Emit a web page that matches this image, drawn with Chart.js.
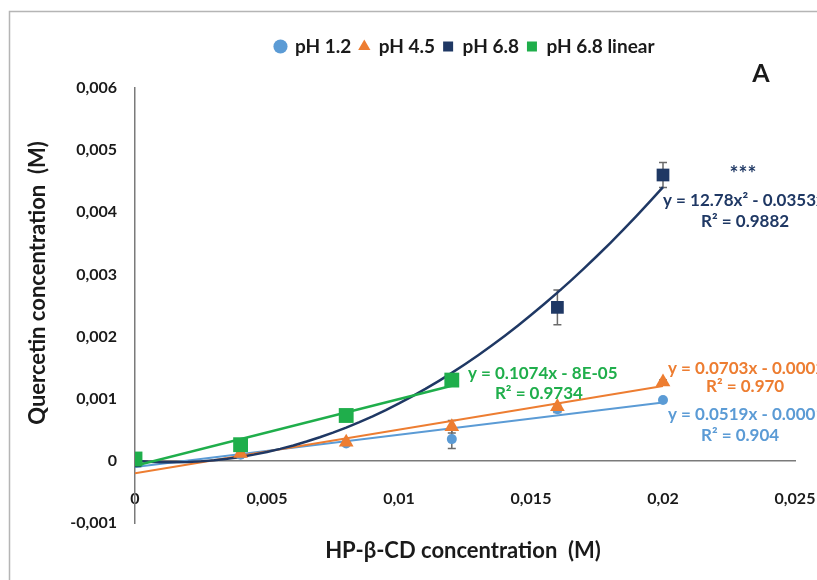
<!DOCTYPE html>
<html>
<head>
<meta charset="utf-8">
<script src="https://cdn.jsdelivr.net/npm/chart.js@4.4.0/dist/chart.umd.min.js"></script>
<style>
  html, body { margin: 0; padding: 0; background: #fff; }
  #wrap { width: 817px; height: 580px; }
</style>
</head>
<body>
<div id="wrap"><canvas id="solChart" width="817" height="580"></canvas></div>
<script>
// HP-b-CD concentration (M)
var conc = [0, 0.004, 0.008, 0.012, 0.016, 0.02];
// quercetin concentration (M) per medium
var ph12 = [0, 0.0001, 0.00028, 0.00035, 0.00083, 0.00098];
var ph12Err = [0, 0, 0, 0.00015, 0.00005, 0];
var ph45 = [0, 0.00012, 0.0003, 0.00055, 0.00087, 0.00127];
var ph45Err = [0, 0, 0, 0.0001, 0.00005, 0.00003];
var ph68 = [0, null, null, 0.0013, 0.00247, 0.0046];
var ph68Err = [0, 0, 0, 0, 0.00028, 0.0002];
var ph68Lin = [0.00003, 0.00026, 0.00073, 0.0013];
// trendline coefficients as printed on the chart
var fit12 = [0.0519, -0.0001];
var fit45 = [0.0703, -0.0002];
var fit68 = [12.78, -0.0353, 0];
var fit68Lin = [0.1074, -0.00008];
var xTickLabels = ['0', '0,005', '0,01', '0,015', '0,02', '0,025'];
var yTickLabels = ['-0,001', '0', '0,001', '0,002', '0,003', '0,004', '0,005', '0,006'];

var BLUE = '#5b9bd5', ORANGE = '#ed7d31', NAVY = '#1f3864', GREEN = '#1fae4b';
var FONT = 'Lato, "Open Sans", sans-serif';

function pts(xs, ys) {
    var out = [];
    for (var i = 0; i < ys.length; i++) {
        if (ys[i] !== null) out.push({ x: xs[i], y: ys[i] });
    }
    return out;
}
function linFit(c, x0, x1) {
    return [{ x: x0, y: c[0] * x0 + c[1] }, { x: x1, y: c[0] * x1 + c[1] }];
}
function polyFit(c, x0, x1, n) {
    var out = [];
    for (var i = 0; i <= n; i++) {
        var x = x0 + (x1 - x0) * i / n;
        out.push({ x: x, y: c[0] * x * x + c[1] * x + c[2] });
    }
    return out;
}

var errorSets = [
    { ys: ph12, err: ph12Err },
    { ys: ph45, err: ph45Err },
    { ys: ph68, err: ph68Err }
];

var errorBars = {
    id: 'errorBars',
    beforeDatasetsDraw: function (chart) {
        var ctx = chart.ctx, xs = chart.scales.x, ys = chart.scales.y;
        ctx.save();
        ctx.strokeStyle = '#6b6b6b';
        ctx.lineWidth = 1.5;
        errorSets.forEach(function (s) {
            for (var i = 0; i < conc.length; i++) {
                if (!s.err[i] || s.ys[i] === null) continue;
                var px = xs.getPixelForValue(conc[i]);
                var top = ys.getPixelForValue(s.ys[i] + s.err[i]);
                var bot = ys.getPixelForValue(s.ys[i] - s.err[i]);
                ctx.beginPath();
                ctx.moveTo(px, top); ctx.lineTo(px, bot);
                ctx.moveTo(px - 4, top); ctx.lineTo(px + 4, top);
                ctx.moveTo(px - 4, bot); ctx.lineTo(px + 4, bot);
                ctx.stroke();
            }
        });
        ctx.restore();
    }
};

// extra room between the legend row and the plot
var legendGap = {
    id: 'legendGap',
    beforeLayout: function (chart) {
        var lg = chart.legend;
        if (lg && !lg._gapPatched) {
            var fit = lg.fit;
            lg.fit = function () { fit.call(this); this.height += 22; };
            lg._gapPatched = true;
        }
    }
};

var labels = [
    { t: 'y = 0.1074x - 8E-05', x: 0.01261, y: 0.0014, c: GREEN, a: 'left' },
    { t: 'R\u00b2 = 0.9734', x: 0.0153, y: 0.00109, c: GREEN, a: 'center' },
    { t: '***', x: 0.02303, y: 0.00462, c: NAVY, a: 'center', s: 21 },
    { t: 'y = 12.78x\u00b2 - 0.0353x + 3E-05', x: 0.02, y: 0.00419, c: NAVY, a: 'left' },
    { t: 'R\u00b2 = 0.9882', x: 0.02311, y: 0.00385, c: NAVY, a: 'center' },
    { t: 'y = 0.0703x - 0.0002', x: 0.02019, y: 0.00149, c: ORANGE, a: 'left' },
    { t: 'R\u00b2 = 0.970', x: 0.02311, y: 0.00119, c: ORANGE, a: 'center' },
    { t: 'y = 0.0519x - 0.0001', x: 0.02019, y: 0.00075, c: BLUE, a: 'left' },
    { t: 'R\u00b2 = 0.904', x: 0.02292, y: 0.0004, c: BLUE, a: 'center' }
];

var decor = {
    id: 'decor',
    beforeDraw: function (chart) {
        var ctx = chart.ctx;
        ctx.save();
        ctx.fillStyle = '#fff';
        ctx.fillRect(0, 0, chart.width, chart.height);
        ctx.strokeStyle = '#b5b5b5';
        ctx.lineWidth = 1.5;
        ctx.strokeRect(9.5, 11.5, 1000, 1000);
        ctx.restore();
    },
    afterDraw: function (chart) {
        var ctx = chart.ctx, xs = chart.scales.x, ys = chart.scales.y;
        ctx.save();
        ctx.textBaseline = 'middle';
        labels.forEach(function (l) {
            ctx.font = 'bold ' + (l.s || 17) + 'px ' + FONT;
            ctx.fillStyle = l.c;
            ctx.textAlign = l.a;
            ctx.fillText(l.t, xs.getPixelForValue(l.x), ys.getPixelForValue(l.y));
        });
        ctx.fillStyle = '#1a1a1a';
        ctx.textAlign = 'center';
        ctx.font = 'bold 25px ' + FONT;
        ctx.fillText('A', 761, 74);
        ctx.font = 'bold 22px ' + FONT;
        ctx.fillText('HP-\u03b2-CD concentration  (M)', 463, 551);
        ctx.translate(38, 283);
        ctx.rotate(-Math.PI / 2);
        ctx.fillText('Quercetin concentration  (M)', 0, 0);
        ctx.restore();
    }
};

new Chart(document.getElementById('solChart'), {
    type: 'scatter',
    data: {
        datasets: [
            { label: 'pH 1.2', data: pts(conc, ph12), pointStyle: 'circle', pointRadius: 5,
              backgroundColor: BLUE, borderColor: BLUE, borderWidth: 0, order: 3 },
            { label: 'pH 4.5', data: pts(conc, ph45), pointStyle: 'triangle', pointRadius: 8.5,
              backgroundColor: ORANGE, borderColor: ORANGE, borderWidth: 0, order: 2 },
            { label: 'pH 6.8', data: pts(conc, ph68), pointStyle: 'rect', pointRadius: 9,
              backgroundColor: NAVY, borderColor: NAVY, borderWidth: 0, order: 1 },
            { label: 'pH 6.8 linear', data: pts(conc, ph68Lin), pointStyle: 'rect', pointRadius: 10.5,
              backgroundColor: GREEN, borderColor: GREEN, borderWidth: 0, order: 0 },
            { label: 'fit 1.2', data: linFit(fit12, 0, 0.02), showLine: true, pointRadius: 0,
              borderColor: BLUE, borderWidth: 2, order: 7 },
            { label: 'fit 4.5', data: linFit(fit45, 0, 0.02), showLine: true, pointRadius: 0,
              borderColor: ORANGE, borderWidth: 2, order: 6 },
            { label: 'fit 6.8', data: polyFit(fit68, 0, 0.02, 40), showLine: true, pointRadius: 0,
              borderColor: NAVY, borderWidth: 2.5, tension: 0, order: 5 },
            { label: 'fit 6.8 linear', data: linFit(fit68Lin, 0, 0.012), showLine: true, pointRadius: 0,
              borderColor: GREEN, borderWidth: 2.5, order: 4 }
        ]
    },
    options: {
        responsive: false,
        animation: false,
        devicePixelRatio: 1,
        layout: { padding: { left: 10, right: 22, top: 29, bottom: 57 } },
        plugins: {
            legend: {
                position: 'top',
                fullSize: false,
                labels: {
                    usePointStyle: true,
                    boxWidth: 10,
                    boxHeight: 10,
                    padding: 8,
                    color: '#1a1a1a',
                    font: { family: FONT, size: 19, weight: 'bold' },
                    sort: function (a, b) { return a.datasetIndex - b.datasetIndex; },
                    filter: function (item) { return item.text.indexOf('fit') !== 0; }
                }
            },
            tooltip: { enabled: false }
        },
        scales: {
            x: {
                type: 'linear',
                position: { y: 0 },
                min: 0, max: 0.025,
                grid: { display: false },
                border: { display: true, color: '#7a7a7a', width: 1.5 },
                afterFit: function (scale) { scale.paddingLeft = 0; scale.paddingRight = 0; },
                ticks: {
                    stepSize: 0.005,
                    padding: 20,
                    color: '#1a1a1a',
                    font: { family: FONT, size: 16, weight: 'bold' },
                    callback: function (v, i) { return xTickLabels[i]; }
                }
            },
            y: {
                type: 'linear',
                position: 'left',
                min: -0.001, max: 0.006,
                grid: { display: false },
                border: { display: true, color: '#7a7a7a', width: 1.5 },
                afterFit: function (scale) { scale.width = 125; },
                ticks: {
                    stepSize: 0.001,
                    padding: 10,
                    color: '#1a1a1a',
                    font: { family: FONT, size: 16, weight: 'bold' },
                    callback: function (v, i) { return yTickLabels[i]; }
                }
            }
        }
    },
    plugins: [legendGap, errorBars, decor]
});
</script>
</body>
</html>
